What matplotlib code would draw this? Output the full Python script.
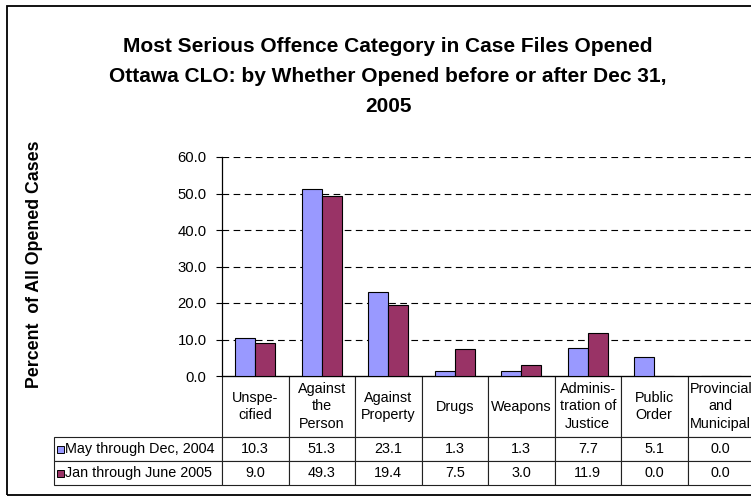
import numpy as np
import matplotlib
matplotlib.use('Agg')
import matplotlib.pyplot as plt
from matplotlib.patches import Rectangle
from matplotlib.table import Table
from matplotlib.ticker import FormatStrFormatter

plt.rcParams['font.family'] = ['Liberation Sans', 'DejaVu Sans']

categories = ['Unspe-\ncified', 'Against\nthe\nPerson', 'Against\nProperty', 'Drugs',
              'Weapons', 'Adminis-\ntration of\nJustice', 'Public\nOrder',
              'Provincial\nand\nMunicipal']
series_names = ['May through Dec, 2004', 'Jan through June 2005']
may_dec_2004 = [10.3, 51.3, 23.1, 1.3, 1.3, 7.7, 5.1, 0.0]
jan_jun_2005 = [9.0, 49.3, 19.4, 7.5, 3.0, 11.9, 0.0, 0.0]
colors = ['#9999FF', '#993366']
title_lines = ['Most Serious Offence Category in Case Files Opened',
               'Ottawa CLO: by Whether Opened before or after Dec 31,',
               '2005']

W, H = 751, 496
fig = plt.figure(figsize=(W / 100, H / 100), dpi=100)

# outer chart border (runs off the right edge like the source)
fig.patches.append(Rectangle((7 / W, 1 / H), 2.0, (490 - 1) / H, fill=False,
                             ec='black', lw=1.3, transform=fig.transFigure))

ax_l, ax_r, ax_t, ax_b = 222, 754, 157, 376
ax = fig.add_axes([ax_l / W, (H - ax_b) / H, (ax_r - ax_l) / W, (ax_b - ax_t) / H])

x = np.arange(len(categories))
bw = 0.3
for i, (vals, name) in enumerate(zip([may_dec_2004, jan_jun_2005], series_names)):
    ax.bar(x + (i - 0.5) * bw, vals, width=bw, align='center', color=colors[i],
           edgecolor='black', linewidth=0.8, label=name, zorder=3)

ax.set_xlim(-0.5, len(categories) - 0.5)
ax.set_ylim(0, 60)
ax.set_yticks(np.arange(0, 61, 10))
ax.yaxis.set_major_formatter(FormatStrFormatter('%.1f'))
ax.tick_params(axis='y', direction='out', length=4, width=0.8, labelsize=10.7, pad=7)
ax.set_xticks([])
for yv in range(10, 61, 10):
    ax.axhline(yv, color='black', lw=0.8, ls=(0, (6, 4)), zorder=1)
for s in ['top', 'right']:
    ax.spines[s].set_visible(False)
for s in ['left', 'bottom']:
    ax.spines[s].set_linewidth(0.9)

# data table under the axes
ax_w = ax_r - ax_l
ax_h = ax_b - ax_t
label_w = (ax_l - 54) / ax_w
col_w = 1 / len(categories)
head_h, row_h = 61 / ax_h, 24 / ax_h
tbl = Table(ax, bbox=[0, -(head_h + 2 * row_h), 1, head_h + 2 * row_h])
for c, name in enumerate(categories):
    cell = tbl.add_cell(0, c, width=col_w, height=head_h, text=name, loc='center')
    cell.get_text().set_linespacing(1.3)
for r, (name, vals) in enumerate(zip(series_names, [may_dec_2004, jan_jun_2005]), start=1):
    cell = tbl.add_cell(r, -1, width=label_w, height=row_h, text=name, loc='left')
    cell.PAD = 11 / (ax_l - 54)
    for c, v in enumerate(vals):
        tbl.add_cell(r, c, width=col_w, height=row_h, text='%.1f' % v, loc='center')
tbl.auto_set_font_size(False)
tbl.set_fontsize(10.4)
for cell in tbl.get_celld().values():
    cell.set_linewidth(0.8)
    cell.set_edgecolor('#222222')
ax.add_table(tbl)

# legend keys in the row label cells
for i in range(2):
    yc = -(head_h + row_h * (i + 0.5))
    ax.add_patch(Rectangle(((57 - ax_l) / ax_w, yc - 3.5 / ax_h), 6.5 / ax_w, 7 / ax_h,
                           transform=ax.transAxes, clip_on=False, fc=colors[i],
                           ec='black', lw=0.7))

for yy, line in zip([47, 76, 106], title_lines):
    fig.text(388 / W, 1 - yy / H, line, ha='center', va='center',
             fontsize=15, fontweight='bold')

fig.text(35 / W, 1 - 264 / H, 'Percent  of All Opened Cases', rotation=90,
         ha='center', va='center', fontsize=12.8, fontweight='bold')

fig.savefig('out.png', dpi=100)
